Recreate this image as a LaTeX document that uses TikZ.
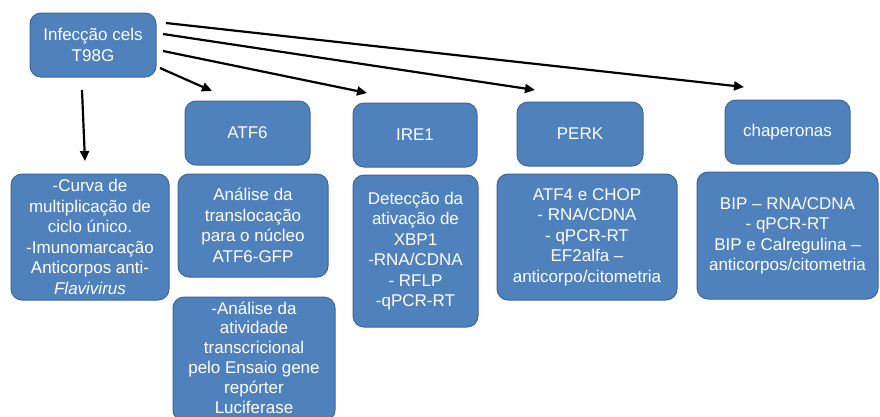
\documentclass[tikz,border=0pt]{standalone}
\usepackage{fontspec}
\setmainfont{Liberation Sans}
\usetikzlibrary{arrows.meta}
\definecolor{boxblue}{HTML}{4F81BD}
\definecolor{boxedge}{HTML}{3D6896}
\tikzset{
  bluebox/.style={rectangle, rounded corners=11pt, fill=boxblue, draw=boxedge, line width=1pt,
    text=white, align=center, inner sep=0pt,
    font=\fontsize{17}{20.5}\selectfont},
  boxtext/.style={text=white, align=center, inner sep=0pt,
    font=\fontsize{17}{19.8}\selectfont},
  arr/.style={line width=2.2pt, -{Triangle[length=10pt,width=9pt]}}
}
\begin{document}
\begin{tikzpicture}[x=1pt,y=-1pt]
\clip (0,0) rectangle (880,416);
\fill[white] (0,0) rectangle (880,416);
% top row
\node[bluebox, minimum width=126pt, minimum height=64pt] (inf) at (93,45) {Infecção cels\\T98G};
\node[bluebox, minimum width=125pt, minimum height=64pt] (atf6) at (247.5,133) {ATF6};
\node[bluebox, minimum width=124pt, minimum height=64pt] (ire1) at (415,135) {IRE1};
\node[bluebox, minimum width=126pt, minimum height=64pt] (perk) at (580,134) {PERK};
\node[bluebox, minimum width=125pt, minimum height=64pt] (chap) at (787.5,132) {chaperonas};
% detail boxes
\node[bluebox, minimum width=158pt, minimum height=126pt] (b1) at (90,237)
  {-Curva de\\multiplicação de\\ciclo único.\\-Imunomarcação\\Anticorpos anti-\\\textit{Flavivirus}};
\node[bluebox, minimum width=150pt, minimum height=103pt] (b2) at (253,225.5)
  {Análise da\\translocação\\para o núcleo\\ATF6-GFP};
\node[bluebox, minimum width=162pt, minimum height=124pt] (b3) at (254,359) {};
\node[boxtext] (b3t) at (254,357.5)
  {-Análise da\\atividade\\transcricional\\pelo Ensaio gene\\repórter\\Luciferase};
\node[bluebox, minimum width=125pt, minimum height=152pt] (b4) at (415.5,251)
  {Detecção da\\ativação de\\XBP1\\-RNA/CDNA\\- RFLP\\-qPCR-RT};
\node[bluebox, minimum width=180pt, minimum height=126pt] (b5) at (587,237)
  {ATF4 e CHOP\\- RNA/CDNA\\- qPCR-RT\\EF2alfa –\\anticorpo/citometria};
\node[bluebox, minimum width=181pt, minimum height=127pt] (b6) at (787.5,235.5)
  {BIP – RNA/CDNA\\- qPCR-RT\\BIP e Calregulina –\\anticorpos/citometria};
% arrow end points
\coordinate (s0) at (82,90);  \coordinate (e0) at (85,161);
\coordinate (s1) at (160,68); \coordinate (e1) at (212,91);
\coordinate (s2) at (163,51); \coordinate (e2) at (367,93);
\coordinate (s3) at (163,34); \coordinate (e3) at (535,90);
\coordinate (s4) at (166,23); \coordinate (e4) at (744,87);
\draw[arr] (s0) -- (e0);
\draw[arr] (s1) -- (e1);
\draw[arr] (s2) -- (e2);
\draw[arr] (s3) -- (e3);
\draw[arr] (s4) -- (e4);
\end{tikzpicture}
\end{document}
